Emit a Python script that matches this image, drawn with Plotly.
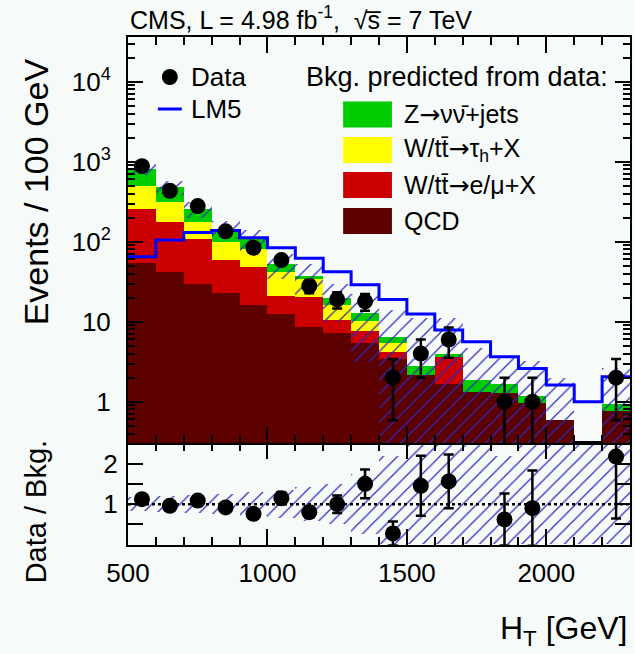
import numpy as np
import plotly.graph_objects as go

# ---------------------------------------------------------------- data
ht_bin_low = list(range(500, 2300, 100))          # 100 GeV bins, 500-2300 GeV
bin_width = 100

data_counts = [880, 434, 279, 135, 84, 59, 28, 19, 18, 2, 4, 6, 0, 1, 1, 0, 0, 2]

# background components (events / 100 GeV)
bkg_qcd = [54, 42, 30, 23, 16, 12.4, 8.7, 7.2, 5.4, 3.4, 2.15, 1.66, 1.33, 1.3, 0.97, 0.59, 0, 0.77]
bkg_lep = [200, 133, 77, 36, 33, 8.6, 11.8, 3.3, 2.2, 0.8, 0, 1.99, 0, 0, 0, 0, 0, 0]
bkg_tau = [243, 135, 71, 41, 32, 21, 13.5, 5.5, 2.7, 1.2, 0, 0, 0, 0, 0, 0, 0, 0]
bkg_znn = [314, 169, 79, 44, 27, 10, 3, 3.6, 2.4, 1.0, 0.65, 0.35, 0.54, 0.35, 0.21, 0, 0, 0.18]

# relative uncertainty on the total background prediction
bkg_rel_unc = [0.17, 0.2, 0.22, 0.25, 0.3, 0.35, 0.42, 0.5, 0.75, 1.2, 3.0, 1.8, 1.5, 1.2, 1.75, 2.4, 3.0, 1.8]

# LM5 signal expectation
lm5 = [65, 105, 130, 138, 112, 84, 62, 42, 29, 19, 12.5, 7.9, 5.6, 3.65, 2.6, 1.62, 1.0, 2.05]

# data / background ratio
ratio = [1.125, 0.96, 1.09, 0.92, 0.76, 1.15, 0.8, 1.0, 1.51, 0.27, 1.46, 1.57, None, 0.62, 0.9, None, None, 2.19]
ratio_err = [0.04, 0.05, 0.07, 0.08, 0.09, 0.15, 0.14, 0.22, 0.36, 0.3, 0.75, 0.67, None, 0.65, 0.94, None, None, 1.55]

# ---------------------------------------------------------------- derived
lo = np.array(ht_bin_low, float)
centers = lo + bin_width / 2
edges = np.append(lo, lo[-1] + bin_width)

qcd = np.array(bkg_qcd)
c_lep = qcd + np.array(bkg_lep)
c_tau = c_lep + np.array(bkg_tau)
total = c_tau + np.array(bkg_znn)
rel = np.array(bkg_rel_unc)

band_hi = total * (1 + rel)
band_lo = np.clip(total * (1 - rel), 0.05, None)
band_mask = total > 0

r_lo = np.clip(1 - rel, 0, None)
r_hi = np.minimum(1 + rel, 3.0)

n = np.array(data_counts, float)
has_data = n > 0
d_err = np.sqrt(n)
d_err_lo = np.minimum(d_err, n - 0.02)

FONT = "Liberation Sans, Arial, Helvetica, sans-serif"
C_ZNN, C_TAU, C_LEP, C_QCD = "#00cc00", "#ffff00", "#cc0000", "#5c0000"
C_LM5 = "#0000ff"
C_HATCH = "#2a2ac0"
BG = "#f6faf8"
ARROW = '<span style="font-family:DejaVu Sans">\u2192</span>'
HATCH = dict(shape="/", fgcolor=C_HATCH, fgopacity=1, size=10, solidity=0.12, fillmode="overlay")

W, H = 635, 654
L, R, T, B = 128, 632, 37, 545           # plot-area pixel box
SPLIT = 443                                # main / ratio boundary


def px(xp):
    return (xp - L) / (R - L)


def py(yp):
    return (B - yp) / (B - T)


fig = go.Figure()

# ---------------------------------------------------------------- main panel
for vals, col in [(total, C_ZNN), (c_tau, C_TAU), (c_lep, C_LEP), (qcd, C_QCD)]:
    v = np.where(vals > 0, vals, np.nan)
    fig.add_trace(go.Bar(x=centers, y=v, width=bin_width, marker=dict(color=col, line=dict(width=0)),
                         xaxis="x2", yaxis="y", showlegend=False, hoverinfo="skip"))

fig.add_trace(go.Bar(
    x=centers[band_mask], y=(band_hi - band_lo)[band_mask], base=band_lo[band_mask], width=bin_width,
    marker=dict(color="rgba(0,0,0,0)", line=dict(width=0), pattern=HATCH),
    xaxis="x2", yaxis="y", showlegend=False, hoverinfo="skip"))

fig.add_trace(go.Scatter(
    x=edges, y=np.append(lm5, lm5[-1]), mode="lines", line=dict(color=C_LM5, width=3, shape="hv"),
    xaxis="x2", yaxis="y", showlegend=False))

fig.add_trace(go.Scatter(
    x=centers[has_data], y=n[has_data], mode="markers",
    marker=dict(color="black", size=16),
    error_y=dict(type="data", array=d_err[has_data], arrayminus=d_err_lo[has_data],
                 color="black", thickness=2.5, width=5),
    xaxis="x2", yaxis="y", showlegend=False))

# ---------------------------------------------------------------- ratio panel
fig.add_trace(go.Bar(
    x=centers, y=r_hi - r_lo, base=r_lo, width=bin_width,
    marker=dict(color="rgba(0,0,0,0)", line=dict(width=0), pattern=HATCH),
    xaxis="x", yaxis="y2", showlegend=False, hoverinfo="skip"))

fig.add_trace(go.Scatter(x=[edges[0], edges[-1]], y=[1, 1], mode="lines",
                         line=dict(color="black", width=2.5, dash="3px,3px"),
                         xaxis="x", yaxis="y2", showlegend=False))

r_arr = np.array([np.nan if v is None else v for v in ratio])
re_arr = np.array([np.nan if v is None else v for v in ratio_err])
ok = ~np.isnan(r_arr)
fig.add_trace(go.Scatter(
    x=centers[ok], y=r_arr[ok], mode="markers", marker=dict(color="black", size=16),
    error_y=dict(type="data", array=re_arr[ok], color="black", thickness=2.5, width=5),
    xaxis="x", yaxis="y2", showlegend=False))

# ---------------------------------------------------------------- axes
split = py(SPLIT)
tick_font = dict(family=FONT, size=26, color="black")
minor_log = [m * 10 ** k for k in range(-1, 5) for m in range(2, 10)]

common_x = dict(range=[500, 2300], showgrid=False, zeroline=False, showline=True, linecolor="black",
                linewidth=2, mirror="allticks", ticks="inside", ticklen=16, tickwidth=2, tickcolor="black",
                tickvals=[500, 1000, 1500, 2000],
                minor=dict(dtick=100, tick0=500, ticks="inside", ticklen=8, tickwidth=1.5,
                           tickcolor="black", showgrid=False))

fig.update_layout(
    width=W, height=H, paper_bgcolor=BG, plot_bgcolor=BG,
    margin=dict(l=L, r=W - R, t=T, b=H - B),
    barmode="overlay", bargap=0,
    font=dict(family=FONT, color="black"),
    xaxis=dict(**common_x, anchor="y2", domain=[0, 1], tickfont=tick_font, ticklabelstandoff=4),
    xaxis2=dict(**common_x, anchor="y", domain=[0, 1], matches="x", showticklabels=False),
    yaxis=dict(type="log", range=[-0.516, 4.559], domain=[split, 1], anchor="x2",
               showgrid=False, zeroline=False, showline=True, linecolor="black", linewidth=2,
               mirror="allticks", ticks="inside", ticklen=15, tickwidth=2, tickcolor="black",
               tickvals=[1, 10, 100, 1000, 10000],
               ticktext=["1", "10", "10<sup>2</sup>", "10<sup>3</sup>", "10<sup>4</sup>"],
               tickfont=tick_font, ticklabelstandoff=10,
               minor=dict(tickmode="array", tickvals=minor_log, ticks="inside", ticklen=7,
                          tickwidth=1.5, tickcolor="black", showgrid=False)),
    yaxis2=dict(range=[-0.02, 2.53], domain=[0, split], anchor="x",
                showgrid=False, zeroline=False, showline=True, linecolor="black", linewidth=2,
                mirror="allticks", ticks="inside", ticklen=15, tickwidth=2, tickcolor="black",
                tickvals=[1, 2], tickfont=tick_font, ticklabelstandoff=3,
                minor=dict(tickmode="array", tickvals=[0.5, 1.5], ticks="inside", ticklen=15,
                           tickwidth=2, tickcolor="black", showgrid=False)),
)

# ---------------------------------------------------------------- titles
ann = []
ann.append(dict(text="CMS, L = 4.98 fb<sup>-1</sup>,  \u221as\u0305 = 7 TeV", x=px(128), y=py(18),
                xanchor="left", yanchor="middle", font=dict(size=25)))
ann.append(dict(text="Events / 100 GeV", x=px(36), y=py(192), textangle=-90,
                xanchor="center", yanchor="middle", font=dict(size=34)))
ann.append(dict(text="Data / Bkg.", x=px(36), y=py(512), textangle=-90,
                xanchor="center", yanchor="middle", font=dict(size=29)))
ann.append(dict(text="H<sub>T</sub> [GeV]", x=px(632), y=py(630),
                xanchor="right", yanchor="middle", font=dict(size=32)))

# ---------------------------------------------------------------- legend
shapes = []
shapes.append(dict(type="circle", xref="paper", yref="paper", x0=px(162), x1=px(178), y0=py(85), y1=py(69),
                   fillcolor="black", line=dict(width=0)))
shapes.append(dict(type="line", xref="paper", yref="paper", x0=px(158), x1=px(182), y0=py(109), y1=py(109),
                   line=dict(color=C_LM5, width=3)))
ann.append(dict(text="Data", x=px(189), y=py(77), xanchor="left", yanchor="middle", font=dict(size=26)))
ann.append(dict(text="LM5", x=px(189), y=py(109), xanchor="left", yanchor="middle", font=dict(size=26)))
ann.append(dict(text="Bkg. predicted from data:", x=px(305), y=py(77), xanchor="left", yanchor="middle",
                font=dict(size=27)))

entries = [(C_ZNN, "Z" + ARROW + "\u03bd\u03bd\u0304+jets", 114.5),
           (C_TAU, "W/tt\u0304" + ARROW + "\u03c4<sub>h</sub>+X", 150),
           (C_LEP, "W/tt\u0304" + ARROW + "e/\u03bc+X", 185),
           (C_QCD, "QCD", 221)]
for col, label, yc in entries:
    shapes.append(dict(type="rect", xref="paper", yref="paper", x0=px(344), x1=px(393),
                       y0=py(yc + 13), y1=py(yc - 13), fillcolor=col, line=dict(width=0)))
    ann.append(dict(text=label, x=px(403), y=py(yc), xanchor="left", yanchor="middle", font=dict(size=25)))

for a in ann:
    a.update(xref="paper", yref="paper", showarrow=False)
    a["font"] = dict(family=FONT, color="black", size=a["font"]["size"])

fig.update_layout(annotations=ann, shapes=shapes)

fig.write_html("out.html")
